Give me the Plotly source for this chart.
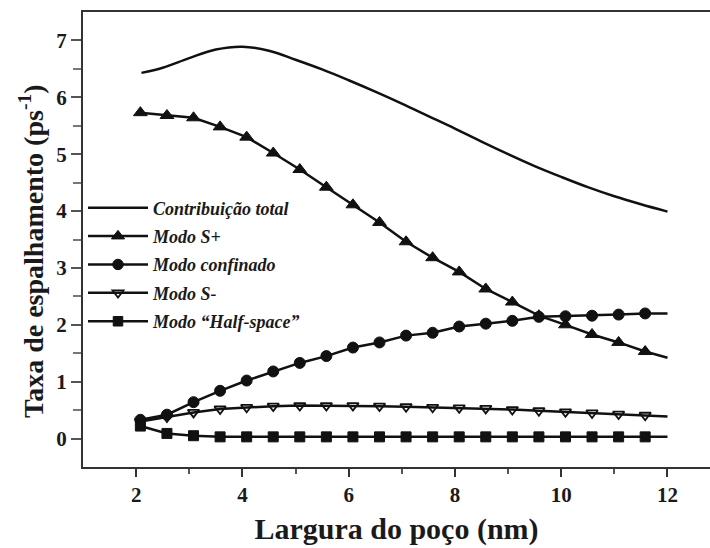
import plotly.graph_objects as go

# Well width (nm) at which the mode rates are sampled; last point closes the line at 12 nm
width_nm = [2.08, 2.58, 3.08, 3.58, 4.08, 4.58, 5.08, 5.58, 6.08, 6.58,
            7.08, 7.58, 8.08, 8.58, 9.08, 9.58, 10.08, 10.58, 11.08, 11.58, 12.0]

# Total contribution curve (ps^-1)
total_x = [2.1, 2.5, 3.0, 3.5, 4.0, 4.5, 5.0, 5.5, 6.0, 6.5, 7.0,
           7.5, 8.0, 8.5, 9.0, 9.5, 10.0, 10.5, 11.0, 11.5, 12.0]
total_y = [6.43, 6.52, 6.69, 6.84, 6.89, 6.82, 6.66, 6.49, 6.30, 6.10, 5.89,
           5.67, 5.45, 5.22, 5.00, 4.79, 4.60, 4.42, 4.26, 4.12, 3.99]

# Individual mode contributions (ps^-1)
s_plus = [5.73, 5.68, 5.64, 5.48, 5.30, 5.02, 4.73, 4.42, 4.11, 3.80,
          3.46, 3.18, 2.93, 2.63, 2.40, 2.16, 2.00, 1.83, 1.69, 1.53, 1.42]
confined = [0.33, 0.42, 0.64, 0.84, 1.02, 1.18, 1.33, 1.45, 1.60, 1.69,
            1.81, 1.86, 1.97, 2.02, 2.07, 2.14, 2.15, 2.16, 2.18, 2.20, 2.20]
s_minus = [0.30, 0.38, 0.46, 0.52, 0.55, 0.57, 0.58, 0.58, 0.58, 0.57,
           0.56, 0.55, 0.54, 0.53, 0.51, 0.49, 0.47, 0.45, 0.43, 0.41, 0.39]
half_space = [0.22, 0.09, 0.05, 0.03, 0.03, 0.03, 0.03, 0.03, 0.03, 0.03,
              0.03, 0.03, 0.03, 0.03, 0.03, 0.03, 0.03, 0.03, 0.03, 0.03, 0.03]

names = ["Contribuição total", "Modo S+", "Modo confinado", "Modo S-", "Modo \u201cHalf-space\u201d"]

x_ticks = [2, 4, 6, 8, 10, 12]
y_ticks = [0, 1, 2, 3, 4, 5, 6, 7]

INK = "#111111"
TEXT = "#1a1a1a"
SERIF = "Liberation Serif, Times New Roman, serif"


def sizes(s):
    # no marker on the closing point of each line
    return [s] * (len(width_nm) - 1) + [0]


def marker(symbol, size, lw=1):
    return dict(symbol=symbol, size=sizes(size), color=INK, opacity=1,
                line=dict(width=lw, color=INK))


fig = go.Figure()

fig.add_trace(go.Scatter(
    x=total_x, y=total_y, mode="lines", name=names[0], legendgroup="a",
    line=dict(color=INK, width=2.5, shape="spline", smoothing=1.0),
))
fig.add_trace(go.Scatter(
    x=width_nm, y=s_plus, mode="lines+markers", name=names[1], legendgroup="b",
    line=dict(color=INK, width=2.5), marker=marker("triangle-up", 12),
))
fig.add_trace(go.Scatter(
    x=width_nm, y=confined, mode="lines+markers", name=names[2], legendgroup="c",
    line=dict(color=INK, width=2.5), marker=marker("circle", 11),
))
fig.add_trace(go.Scatter(
    x=width_nm, y=s_minus, mode="lines+markers", name=names[3], legendgroup="d",
    line=dict(color=INK, width=2.5), marker=marker("triangle-down-open", 10, 1.8),
))
fig.add_trace(go.Scatter(
    x=width_nm, y=half_space, mode="lines+markers", name=names[4], legendgroup="e",
    line=dict(color=INK, width=2.5), marker=marker("square", 10),
))

fig.update_layout(
    width=710, height=548,
    margin=dict(l=83, r=0, t=12, b=81),
    paper_bgcolor="white", plot_bgcolor="white",
    font=dict(family=SERIF, color=TEXT),
    showlegend=True,
    legend=dict(
        x=0.0, y=0.61, xanchor="left", yanchor="top",
        bgcolor="rgba(0,0,0,0)",
        font=dict(family=SERIF, size=18, color=TEXT, style="italic", weight="bold"),
        traceorder="grouped", tracegroupgap=2, itemwidth=60,
    ),
    xaxis=dict(
        range=[1.0, 12.8], tickvals=x_ticks, ticktext=[str(v) for v in x_ticks],
        showgrid=False, zeroline=False,
        showline=True, linecolor="#333", linewidth=2, mirror=True,
        ticks="outside", ticklen=8, tickwidth=2, tickcolor="#333",
        minor=dict(tickvals=[3, 5, 7, 9, 11], ticks="outside", ticklen=5,
                   tickwidth=1.5, tickcolor="#555"),
        tickfont=dict(family=SERIF, size=21, weight="bold", color=TEXT),
        title=dict(text="Largura do poço (nm)", standoff=12,
                   font=dict(family=SERIF, size=30, weight="bold", color=TEXT)),
    ),
    yaxis=dict(
        range=[-0.5, 7.5], tickvals=y_ticks, ticktext=[str(v) for v in y_ticks],
        showgrid=False, zeroline=False,
        showline=True, linecolor="#333", linewidth=2,
        ticks="outside", ticklen=10, tickwidth=1.5, tickcolor="#555",
        minor=dict(tickvals=[0.5, 1.5, 2.5, 3.5, 4.5, 5.5, 6.5], ticks="outside",
                   ticklen=8, tickwidth=1.5, tickcolor="#777"),
        tickfont=dict(family=SERIF, size=21, weight="bold", color=TEXT),
    ),
    annotations=[dict(
        text="Taxa de espalhamento (ps<sup>-1</sup>)", textangle=-90,
        xref="paper", yref="paper", x=-0.082, y=0.474,
        xanchor="center", yanchor="middle", showarrow=False,
        font=dict(family=SERIF, size=28, weight="bold", color=TEXT),
    )],
)

fig.write_html("out.html")
